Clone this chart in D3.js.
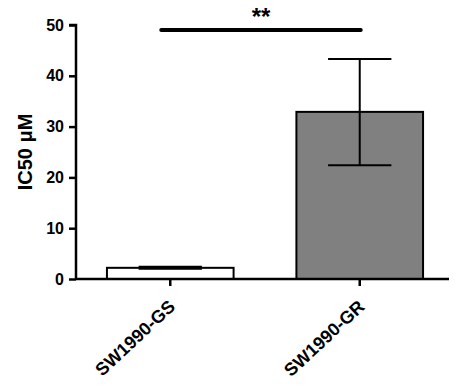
<!DOCTYPE html>
<html><head><meta charset="utf-8">
<script src="https://cdn.jsdelivr.net/npm/d3@7"></script>
<style>body{margin:0;background:#fff}svg{display:block}text{font-family:Arial,"Liberation Sans",sans-serif;font-weight:bold;fill:#000}</style>
</head><body>
<script>
const categories = ["SW1990-GS", "SW1990-GR"];
const values = [2.2, 32.9];
const errLow = [2.0, 22.4];
const errHigh = [2.4, 43.3];
const fills = ["#ffffff", "#808080"];
const yTicks = [0, 10, 20, 30, 40, 50];
const yLabel = "IC50 μM";
const sigLabel = "**";

const W = 456, H = 389;
const svg = d3.select("body").append("svg").attr("width", W).attr("height", H);
const x0 = 76, x1 = 449, yTop = 25, yBot = 279;
const y = d3.scaleLinear().domain([0, 50]).range([yBot, yTop]);
const x = d3.scaleBand().domain(categories).range([88, 442]).paddingInner(0.3316).paddingOuter(0.1);

svg.selectAll("rect.bar").data(categories).enter().append("rect")
  .attr("x", d => x(d)).attr("width", x.bandwidth())
  .attr("y", (d, i) => y(values[i])).attr("height", (d, i) => y(0) - y(values[i]))
  .attr("fill", (d, i) => fills[i]).attr("stroke", "#000").attr("stroke-width", 2);

categories.forEach((c, i) => {
  const cx = x(c) + x.bandwidth() / 2;
  const cw = x.bandwidth() * 0.25;
  const g = svg.append("g").attr("stroke", "#000").attr("stroke-width", 2);
  g.append("line").attr("x1", cx).attr("x2", cx).attr("y1", y(errLow[i])).attr("y2", y(errHigh[i]));
  g.append("line").attr("x1", cx - cw).attr("x2", cx + cw).attr("y1", y(errHigh[i])).attr("y2", y(errHigh[i]));
  g.append("line").attr("x1", cx - cw).attr("x2", cx + cw).attr("y1", y(errLow[i])).attr("y2", y(errLow[i]));
});

const ya = svg.append("g").attr("transform", `translate(${x0},0)`)
  .call(d3.axisLeft(y).tickValues(yTicks).tickSize(7).tickPadding(5));
ya.select(".domain").attr("stroke-width", 2.5).attr("d", `M-7,${yTop}H0V${yBot}`);
ya.selectAll(".tick line").attr("stroke-width", 2.5);
ya.selectAll("text").style("font-size", "16px").style("font-family", "Arial, 'Liberation Sans', sans-serif").style("font-weight", "bold");

const xa = svg.append("g").attr("transform", `translate(0,${yBot})`)
  .call(d3.axisBottom(x).tickSize(7).tickPadding(4));
xa.select(".domain").attr("stroke-width", 2.5).attr("d", `M${x0},0H${x1}`);
xa.selectAll(".tick line").attr("stroke-width", 2.5);
xa.selectAll("text").style("font-size", "18px").style("font-family", "Arial, 'Liberation Sans', sans-serif").style("font-weight", "bold")
  .attr("text-anchor", "end").attr("x", 0).attr("y", 0).attr("dy", 0)
  .attr("transform", "translate(6,29) rotate(-43)");

svg.append("text").attr("transform", `translate(32,${(yTop + yBot) / 2}) rotate(-90)`)
  .attr("text-anchor", "middle").style("font-size", "20px").text(yLabel);

const sx1 = x(categories[0]) + x.bandwidth() / 2 - 9, sx2 = x(categories[1]) + x.bandwidth() / 2 + 1;
svg.append("line").attr("x1", sx1).attr("x2", sx2).attr("y1", 30).attr("y2", 30)
  .attr("stroke", "#000").attr("stroke-width", 4).attr("stroke-linecap", "round");
svg.append("text").attr("x", (sx1 + sx2) / 2).attr("y", 25).attr("text-anchor", "middle")
  .style("font-size", "24px").text(sigLabel);
</script>
</body></html>
